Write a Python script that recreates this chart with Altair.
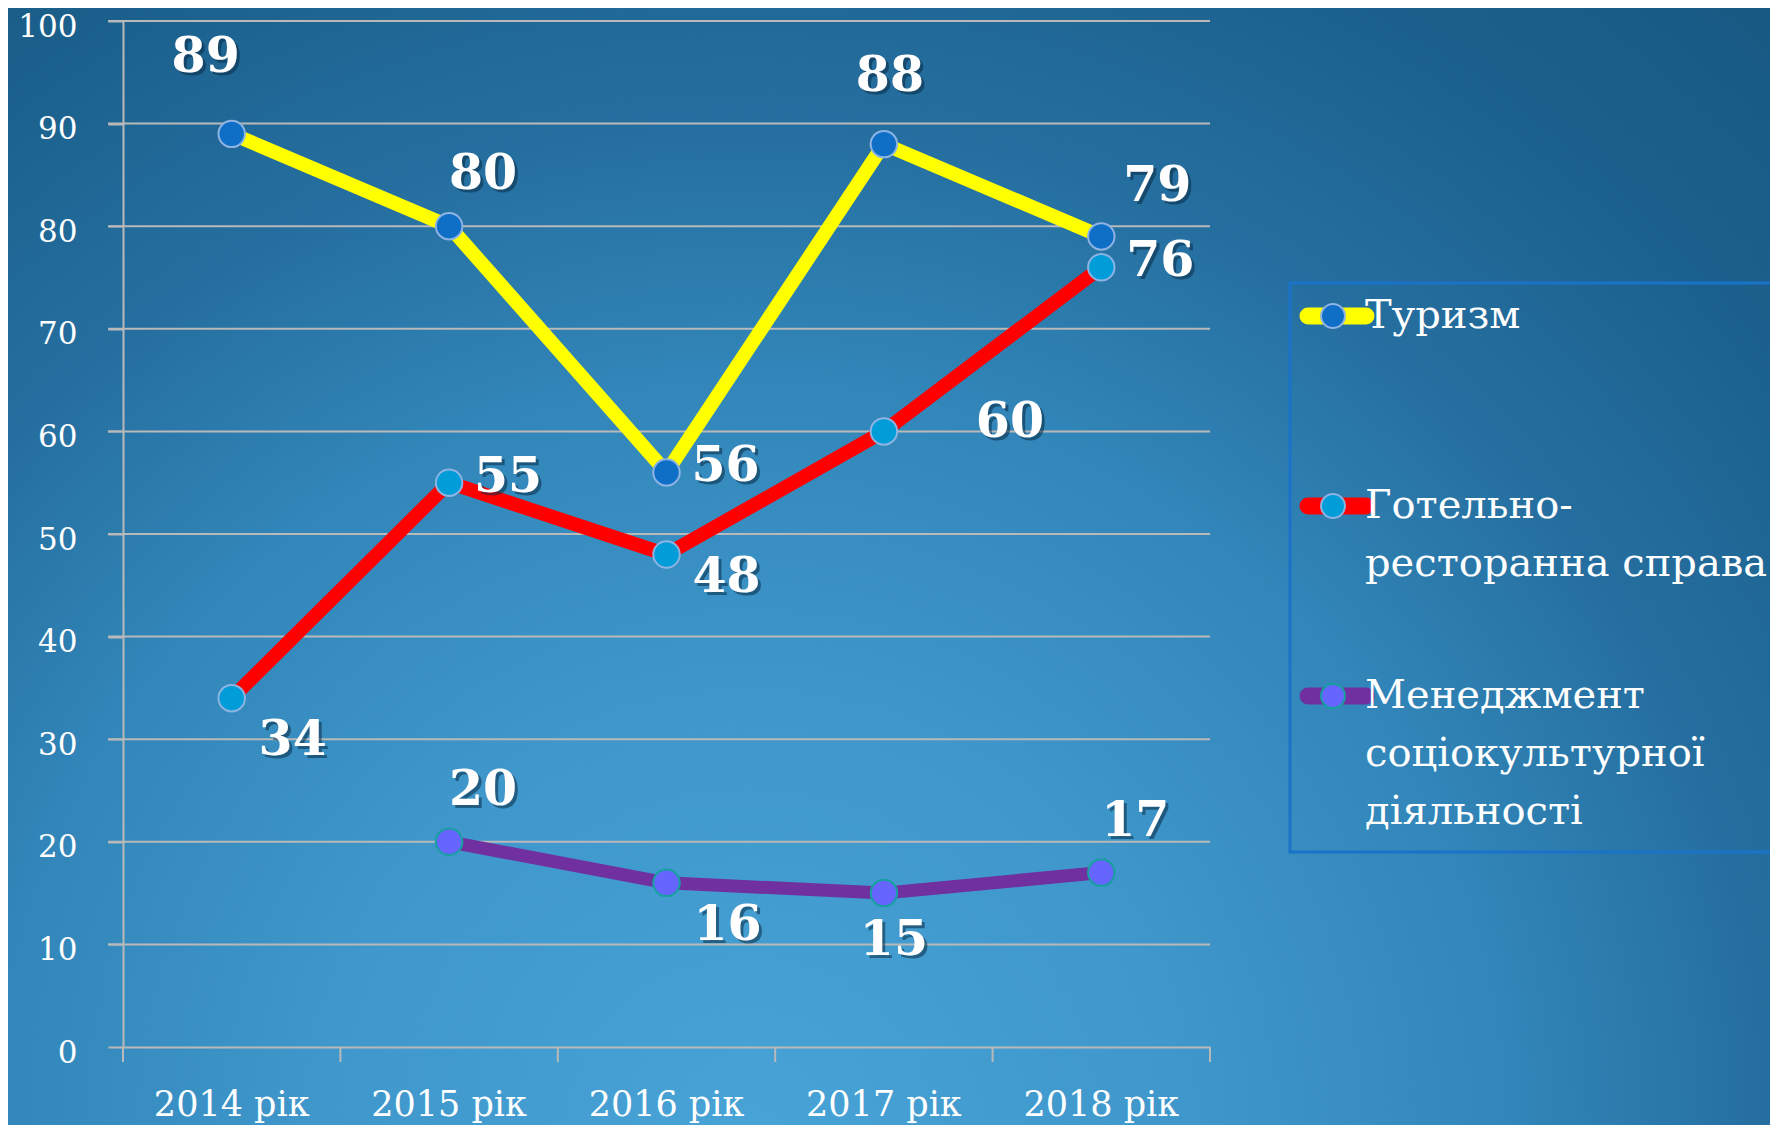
import altair as alt
import pandas as pd

# ---------------- data ----------------
years = ["2014 рік", "2015 рік", "2016 рік", "2017 рік", "2018 рік"]
series_names = ["Туризм", "Готельно-ресторанна справа", "Менеджмент соціокультурної діяльності"]
tourism = [89, 80, 56, 88, 79]
hotel = [34, 55, 48, 60, 76]
management = [None, 20, 16, 15, 17]
series_values = [tourism, hotel, management]
legend_lines = [["Туризм"], ["Готельно-", "ресторанна справа"], ["Менеджмент", "соціокультурної", "діяльності"]]
y_ticks = [0, 10, 20, 30, 40, 50, 60, 70, 80, 90, 100]

# label placement names per point (style, not data)
label_places = [
    ["above-left", "above-right", "right", "above", "upper-right"],
    ["below-right", "right", "lower-right", "far-right", "right"],
    ["none", "above-right", "below-right", "below", "above-right"],
]

# ---------------- styles ----------------
W, H = 1087, 1026
FONT = "DejaVu Serif"
GRID = "#b9b9b9"
line_colors = ["#FFFF00", "#FF0000", "#7030A0"]
line_widths = [14, 14, 13]
marker_fills = ["#0F6FC6", "#009DD9", "#6666FF"]
marker_strokes = ["#8DB3E2", "#8DB3E2", "#16A0A0"]
place_offsets = {
    "above-left": (-26, -77),
    "above": (6, -68),
    "above-right": (34, -52),
    "upper-right": (56, -50),
    "right": (59, -6),
    "lower-right": (60, 22),
    "below-right": (61, 42),
    "below": (10, 47),
    "far-right": (126, -9),
}

rows = []
for s, vals, places in zip(series_names, series_values, label_places):
    for yr, v, p in zip(years, vals, places):
        rows.append({"series": s, "year": yr, "value": v, "pos": p})
df = pd.DataFrame(rows)

x_scale = alt.Scale(type="band", domain=years, paddingInner=0, paddingOuter=0)
x_axis = alt.Axis(
    title=None, ticks=False, labelAngle=0, labelFont=FONT, labelFontSize=35,
    labelColor="white", labelPadding=40, domainColor=GRID, domainWidth=2,
    zindex=1,
)
y_scale = alt.Scale(domain=[0, 100], nice=False)
y_axis = alt.Axis(
    title=None, values=y_ticks, grid=False, tickSize=15, tickColor=GRID,
    tickWidth=2, domainColor=GRID, domainWidth=2, labelFont=FONT,
    labelFontSize=31, labelColor="white", labelPadding=31, labelOffset=6,
    labelBaseline="middle", zindex=1,
)
x_enc = alt.X("year:N", scale=x_scale, axis=x_axis)
y_enc = alt.Y("value:Q", scale=y_scale, axis=y_axis)

one = pd.DataFrame({"a": [0]})

background = alt.Chart(one).mark_rect(
    fill={
        "gradient": "radial",
        "x1": 0.5, "y1": 0.5, "r1": 0,
        "x2": 0.5, "y2": 0.5, "r2": 0.5,
        "stops": [
            {"offset": 0.0, "color": "#48a3d7"},
            {"offset": 0.2, "color": "#3f97cb"},
            {"offset": 0.35, "color": "#3286b9"},
            {"offset": 0.47, "color": "#256fa0"},
            {"offset": 0.6, "color": "#1b608c"},
            {"offset": 0.75, "color": "#15567f"},
            {"offset": 1.0, "color": "#135883"},
        ],
    }
).encode(x=alt.value(-693), x2=alt.value(1947), y=alt.value(-1042), y2=alt.value(3278))

grid_df = pd.DataFrame({"value": y_ticks[1:]})
grid = alt.Chart(grid_df).mark_rule(color=GRID, strokeWidth=2).encode(
    y=y_enc, x=alt.value(-15), x2=alt.value(W),
)

tick_df = pd.DataFrame({"year": years})
xticks = alt.Chart(tick_df).mark_rule(color=GRID, strokeWidth=2).encode(
    x=alt.X("year:N", bandPosition=0, scale=x_scale, axis=x_axis),
    y=alt.value(H), y2=alt.value(H + 15),
)
last_tick = alt.Chart(one).mark_rule(color=GRID, strokeWidth=2).encode(
    x=alt.value(W), y=alt.value(H), y2=alt.value(H + 15)
)

layers = [background, grid, xticks, last_tick]

for i, s in enumerate(series_names):
    base = alt.Chart(df).transform_filter(alt.datum.series == s)
    layers.append(
        base.mark_line(color=line_colors[i], strokeWidth=line_widths[i], strokeJoin="round", strokeCap="round")
        .encode(x=x_enc, y=y_enc)
    )
for i, s in enumerate(series_names):
    base = alt.Chart(df).transform_filter(alt.datum.series == s)
    layers.append(
        base.mark_point(filled=True, shape="circle", size=700, fill=marker_fills[i],
                        stroke=marker_strokes[i], strokeWidth=2, opacity=1)
        .encode(x=x_enc, y=y_enc)
    )

# data labels (shadow + white text)
for name, (dx, dy) in place_offsets.items():
    base = alt.Chart(df).transform_filter(alt.datum.pos == name)
    layers.append(
        base.mark_text(font=FONT, fontWeight="bold", fontSize=49, color="#0a2c45", opacity=0.55,
                       dx=dx + 3, dy=dy + 3, align="center", baseline="middle")
        .encode(x=x_enc, y=y_enc, text=alt.Text("value:Q", format="d"))
    )
    layers.append(
        base.mark_text(font=FONT, fontWeight="bold", fontSize=49, color="white",
                       dx=dx, dy=dy, align="center", baseline="middle")
        .encode(x=x_enc, y=y_enc, text=alt.Text("value:Q", format="d"))
    )

# legend (drawn manually)
LEG_X0, LEG_Y0, LEG_STEP, LINE_H = 1167, 295, 190, 58
layers.append(
    alt.Chart(one).mark_rect(fill=None, stroke="#1a73c9", strokeWidth=3, fillOpacity=0).encode(
        x=alt.value(LEG_X0), x2=alt.value(1700), y=alt.value(262), y2=alt.value(831)
    )
)
for i, s in enumerate(series_names):
    yc = LEG_Y0 + i * LEG_STEP
    layers.append(
        alt.Chart(one).mark_rule(color=line_colors[i], strokeWidth=17, strokeCap="round").encode(
            x=alt.value(LEG_X0 + 18), x2=alt.value(LEG_X0 + 76), y=alt.value(yc)
        )
    )
    layers.append(
        alt.Chart(one).mark_point(filled=True, shape="circle", size=570, fill=marker_fills[i],
                                  stroke=marker_strokes[i], strokeWidth=2, opacity=1).encode(
            x=alt.value(LEG_X0 + 43), y=alt.value(yc)
        )
    )
    for j, line in enumerate(legend_lines[i]):
        layers.append(
            alt.Chart(one).mark_text(text=line, font=FONT, fontSize=40, color="white",
                                     align="left", baseline="middle").encode(
                x=alt.value(LEG_X0 + 75), y=alt.value(yc + j * LINE_H)
            )
        )

chart = alt.layer(*layers).properties(
    width=W, height=H,
    autosize=alt.AutoSizeParams(type="none"),
    padding={"left": 115, "top": 13, "right": 560, "bottom": 78},
    background="#135883",
).configure_view(stroke=None)

chart.save("out.html", embed_options={"renderer": "svg", "actions": False})
